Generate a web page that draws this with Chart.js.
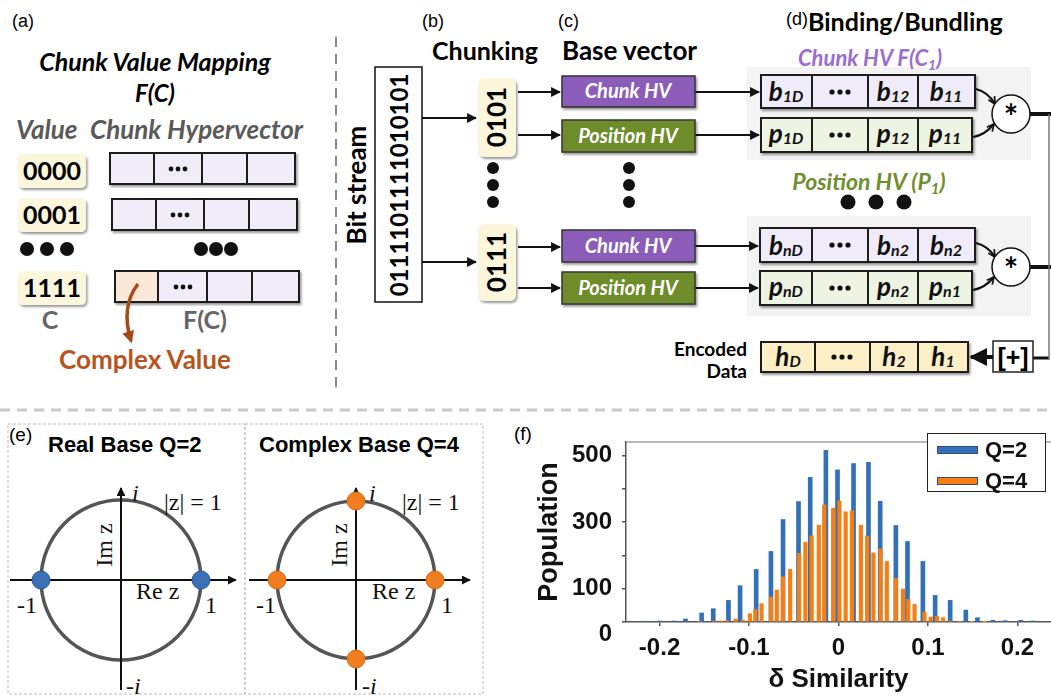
<!DOCTYPE html>
<html>
<head>
<meta charset="utf-8">
<script src="https://cdn.jsdelivr.net/npm/chart.js@4.4.1/dist/chart.umd.min.js"></script>
<style>
  body { margin: 0; background: #fff; }
  #fig { position: relative; width: 1051px; height: 698px; overflow: hidden; background: #fff; }
  #diagram { position: absolute; left: 0; top: 0; }
  #histWrap { position: absolute; left: 530px; top: 420px; width: 521px; height: 278px; }
  #legend { position: absolute; left: 927px; top: 433px; width: 119px; height: 59px; box-sizing: border-box;
            border: 1.5px solid #222; background: #fff; font: bold 22px "Liberation Sans", Arial, sans-serif; color: #111; }
  #legend .item { position: absolute; left: 9px; display: flex; align-items: center; height: 26px; }
  #legend .sw { width: 39px; height: 6px; border: 1px solid #3a4a7a; margin-right: 7px; }
  .lt { font-family: Lato, "Open Sans", sans-serif; font-weight: bold; }
  .lti { font-family: Lato, "Open Sans", sans-serif; font-weight: bold; font-style: italic; }
  .ar { font-family: "Liberation Sans", Arial, sans-serif; }
  .sf { font-family: "Liberation Serif", "DejaVu Serif", serif; }
</style>
</head>
<body>
<div id="fig">
<svg id="diagram" width="1051" height="698" xmlns="http://www.w3.org/2000/svg">
  <defs>
    <marker id="ah" viewBox="0 0 10 10" refX="9" refY="5" markerWidth="4.5" markerHeight="4.5" orient="auto">
      <path d="M0,0 L10,5 L0,10 z" fill="#111"/>
    </marker>
    <marker id="ahOpen" viewBox="0 0 10 10" refX="9" refY="5" markerWidth="4" markerHeight="4" orient="auto">
      <path d="M1,1 L9,5 L1,9" fill="none" stroke="#111" stroke-width="2"/>
    </marker>
    <marker id="ahBrown" viewBox="0 0 10 10" refX="8" refY="5" markerWidth="3.5" markerHeight="3.5" orient="auto">
      <path d="M0,0 L10,5 L0,10 z" fill="#a64a17"/>
    </marker>
    <filter id="sh" x="-15%" y="-15%" width="140%" height="150%">
      <feDropShadow dx="1.5" dy="2" stdDeviation="1.3" flood-color="#000" flood-opacity="0.4"/>
    </filter>
  </defs>

  <!-- (a) chunk value mapping -->
  <text x="12" y="27" class="ar" font-size="18">(a)</text>
  <text x="155" y="71" class="lti" font-size="25" text-anchor="middle">Chunk Value Mapping</text>
  <text x="155" y="102" class="lti" font-size="24" text-anchor="middle">F(C)</text>
  <text x="16" y="139" class="lti" font-size="26" fill="#5a5a5a">Value</text>
  <text x="90" y="139" class="lti" font-size="26" fill="#5a5a5a">Chunk Hypervector</text>

  <g filter="url(#sh)" fill="#fcf7dc">
    <rect x="18" y="154" width="68" height="34" rx="5"/>
    <rect x="18" y="198" width="68" height="34" rx="5"/>
    <rect x="18" y="271" width="68" height="34" rx="5"/>
  </g>
  <g class="lt" font-size="25" text-anchor="middle">
    <text x="52" y="180">0000</text>
    <text x="52" y="224">0001</text>
    <text x="52" y="297">1111</text>
  </g>
  <g filter="url(#sh)" stroke="#1a1a1a" stroke-width="2" fill="#f1edf8">
    <rect x="110" y="153" width="44" height="31"/><rect x="154" y="153" width="48" height="31"/>
    <rect x="202" y="153" width="45" height="31"/><rect x="247" y="153" width="48" height="31"/>
    <rect x="112" y="199" width="44" height="31"/><rect x="156" y="199" width="48" height="31"/>
    <rect x="204" y="199" width="45" height="31"/><rect x="249" y="199" width="48" height="31"/>
    <rect x="115" y="271" width="43" height="31" fill="#fbe8d8"/><rect x="158" y="271" width="49" height="31"/>
    <rect x="207" y="271" width="45" height="31"/><rect x="252" y="271" width="47" height="31"/>
  </g>
  <g fill="#111">
    <circle cx="171" cy="169" r="2.4"/><circle cx="178" cy="169" r="2.4"/><circle cx="185" cy="169" r="2.4"/>
    <circle cx="173" cy="215" r="2.4"/><circle cx="180" cy="215" r="2.4"/><circle cx="187" cy="215" r="2.4"/>
    <circle cx="176" cy="287" r="2.4"/><circle cx="183" cy="287" r="2.4"/><circle cx="190" cy="287" r="2.4"/>
    <circle cx="27" cy="249" r="7"/><circle cx="47" cy="249" r="7"/><circle cx="67" cy="249" r="7"/>
    <circle cx="201" cy="249" r="7"/><circle cx="216" cy="249" r="7"/><circle cx="231" cy="249" r="7"/>
  </g>
  <text x="50" y="329" class="lt" font-size="25" fill="#666" text-anchor="middle">C</text>
  <text x="205" y="329" class="lt" font-size="25" fill="#666" text-anchor="middle">F(C)</text>
  <path d="M138,284 C127,298 124,318 131,341" fill="none" stroke="#a64a17" stroke-width="3.5" marker-end="url(#ahBrown)"/>
  <text x="145" y="369" class="lt" font-size="26" fill="#b5541c" text-anchor="middle">Complex Value</text>

  <line x1="336" y1="37" x2="336" y2="387" stroke="#888" stroke-width="2" stroke-dasharray="10,7"/>

  <!-- (b) chunking, (c) base vectors -->
  <text x="422" y="27" class="ar" font-size="18">(b)</text>
  <text x="558" y="27" class="ar" font-size="18">(c)</text>
  <text x="432" y="60" class="lt" font-size="25">Chunking</text>
  <text x="562" y="60" class="lt" font-size="26">Base vector</text>
  <text transform="translate(366,185) rotate(-90)" class="lt" font-size="26" text-anchor="middle">Bit stream</text>
  <rect x="375" y="67" width="47" height="235" fill="#fff" stroke="#111" stroke-width="1.5"/>
  <text transform="translate(408,185) rotate(-90)" class="lt" font-size="24" text-anchor="middle">0111101111010101</text>

  <!-- grey panels behind the bound pairs -->
  <rect x="747" y="67" width="284" height="93" fill="#f3f3f3"/>
  <rect x="747" y="216" width="284" height="100" fill="#f3f3f3"/>

  <g stroke="#111" stroke-width="2.2" marker-end="url(#ah)">
    <line x1="422" y1="118" x2="476" y2="118"/>
    <line x1="422" y1="262" x2="476" y2="262"/>
    <line x1="518" y1="92" x2="560" y2="92"/>
    <line x1="518" y1="135" x2="560" y2="135"/>
    <line x1="518" y1="247" x2="560" y2="247"/>
    <line x1="518" y1="288" x2="560" y2="288"/>
    <line x1="695" y1="92" x2="759" y2="92"/>
    <line x1="695" y1="135" x2="759" y2="135"/>
    <line x1="695" y1="246" x2="758" y2="246"/>
    <line x1="695" y1="288" x2="758" y2="288"/>
  </g>
  <g filter="url(#sh)" fill="#fcf7dc">
    <rect x="478" y="78" width="38" height="79" rx="6"/>
    <rect x="478" y="224" width="38" height="77" rx="6"/>
  </g>
  <text transform="translate(506,117) rotate(-90)" class="lt" font-size="26" text-anchor="middle">0101</text>
  <text transform="translate(506,262) rotate(-90)" class="lt" font-size="26" text-anchor="middle">0111</text>
  <g fill="#111">
    <circle cx="493" cy="168" r="6"/><circle cx="493" cy="185" r="6"/><circle cx="493" cy="202" r="6"/>
    <circle cx="629" cy="168" r="6"/><circle cx="629" cy="185" r="6"/><circle cx="629" cy="202" r="6"/>
  </g>
  <g filter="url(#sh)" stroke="#333" stroke-width="1.5">
    <rect x="562" y="76" width="133" height="31" fill="#8b5db8"/>
    <rect x="562" y="120" width="133" height="32" fill="#6e8c2b"/>
    <rect x="562" y="230" width="133" height="32" fill="#8b5db8"/>
    <rect x="562" y="272" width="133" height="32" fill="#6e8c2b"/>
  </g>
  <g class="lti" font-size="20" fill="#fff" text-anchor="middle">
    <text x="628" y="98">Chunk HV</text>
    <text x="628" y="143">Position HV</text>
    <text x="628" y="253">Chunk HV</text>
    <text x="628" y="295">Position HV</text>
  </g>

  <!-- (d) binding / bundling -->
  <text x="786" y="25" class="ar" font-size="18">(d)</text>
  <text x="808" y="31" class="lt" font-size="25">Binding/Bundling</text>
  <text x="870" y="66" class="lti" font-size="22" fill="#9a6dd0" text-anchor="middle">Chunk HV F(C<tspan font-size="14" dy="4">1</tspan><tspan dy="-4">)</tspan></text>
  <g filter="url(#sh)" stroke="#1a1a1a" stroke-width="2">
    <g fill="#f0ebf8">
      <rect x="761" y="75" width="51" height="33"/><rect x="812" y="75" width="56" height="33"/>
      <rect x="868" y="75" width="50" height="33"/><rect x="918" y="75" width="57" height="33"/>
      <rect x="760" y="228" width="52" height="34"/><rect x="812" y="228" width="56" height="34"/>
      <rect x="868" y="228" width="50" height="34"/><rect x="918" y="228" width="57" height="34"/>
    </g>
    <g fill="#eef4e2">
      <rect x="761" y="118" width="51" height="34"/><rect x="812" y="118" width="56" height="34"/>
      <rect x="868" y="118" width="50" height="34"/><rect x="918" y="118" width="54" height="34"/>
      <rect x="760" y="271" width="52" height="34"/><rect x="812" y="271" width="56" height="34"/>
      <rect x="868" y="271" width="50" height="34"/><rect x="918" y="271" width="54" height="34"/>
    </g>
    <g fill="#fcefc6">
      <rect x="761" y="342" width="54" height="30"/><rect x="815" y="342" width="55" height="30"/>
      <rect x="870" y="342" width="48" height="30"/><rect x="918" y="342" width="50" height="30"/>
    </g>
  </g>
  <g class="lti" font-size="26" text-anchor="middle" fill="#111">
    <text x="786" y="101">b<tspan font-size="16" dy="1">1D</tspan></text>
    <text x="893" y="101">b<tspan font-size="16" dy="1">12</tspan></text>
    <text x="946" y="101">b<tspan font-size="16" dy="1">11</tspan></text>
    <text x="786" y="143">p<tspan font-size="16" dy="1">1D</tspan></text>
    <text x="893" y="143">p<tspan font-size="16" dy="1">12</tspan></text>
    <text x="945" y="143">p<tspan font-size="16" dy="1">11</tspan></text>
    <text x="786" y="255">b<tspan font-size="16" dy="1">nD</tspan></text>
    <text x="893" y="255">b<tspan font-size="16" dy="1">n2</tspan></text>
    <text x="946" y="255">b<tspan font-size="16" dy="1">n2</tspan></text>
    <text x="786" y="296">p<tspan font-size="16" dy="1">nD</tspan></text>
    <text x="893" y="296">p<tspan font-size="16" dy="1">n2</tspan></text>
    <text x="945" y="296">p<tspan font-size="16" dy="1">n1</tspan></text>
    <text x="788" y="366">h<tspan font-size="16" dy="1">D</tspan></text>
    <text x="894" y="366">h<tspan font-size="16" dy="1">2</tspan></text>
    <text x="943" y="366">h<tspan font-size="16" dy="1">1</tspan></text>
  </g>
  <g fill="#111">
    <circle cx="832" cy="92" r="2.6"/><circle cx="840" cy="92" r="2.6"/><circle cx="848" cy="92" r="2.6"/>
    <circle cx="832" cy="135" r="2.6"/><circle cx="840" cy="135" r="2.6"/><circle cx="848" cy="135" r="2.6"/>
    <circle cx="832" cy="245" r="2.6"/><circle cx="840" cy="245" r="2.6"/><circle cx="848" cy="245" r="2.6"/>
    <circle cx="832" cy="288" r="2.6"/><circle cx="840" cy="288" r="2.6"/><circle cx="848" cy="288" r="2.6"/>
    <circle cx="834" cy="357" r="2.6"/><circle cx="842" cy="357" r="2.6"/><circle cx="850" cy="357" r="2.6"/>
    <circle cx="848" cy="202" r="7.5"/><circle cx="876" cy="202" r="7.5"/><circle cx="904" cy="202" r="7.5"/>
  </g>
  <text x="869" y="190" class="lti" font-size="23" fill="#6f8f2f" text-anchor="middle">Position HV (P<tspan font-size="15" dy="4">1</tspan><tspan dy="-4">)</tspan></text>
  <g fill="none" stroke="#111" stroke-width="2.2" marker-end="url(#ahOpen)">
    <path d="M976,89 Q988,92 995,104"/>
    <path d="M973,137 Q985,135 994,124"/>
    <path d="M976,243 Q988,246 995,257"/>
    <path d="M973,290 Q985,288 994,277"/>
  </g>
  <circle cx="1011" cy="114" r="19" fill="#fff" stroke="#111" stroke-width="1.5"/>
  <circle cx="1011" cy="267" r="19" fill="#fff" stroke="#111" stroke-width="1.5"/>
  <g class="lt" font-size="34" text-anchor="middle"><text x="1011" y="129">*</text><text x="1011" y="282">*</text></g>
  <g stroke="#111" stroke-width="4">
    <line x1="1030" y1="114" x2="1051" y2="114"/>
    <line x1="1030" y1="267" x2="1051" y2="267"/>
    <line x1="1049" y1="358" x2="1033" y2="358" stroke-width="3"/>
  </g>
  <line x1="1049" y1="114" x2="1049" y2="360" stroke="#777" stroke-width="1.5"/>
  <rect x="993" y="341" width="40" height="31" fill="#fff" stroke="#222" stroke-width="1.5"/>
  <text x="1013" y="366" class="ar" font-size="25" font-weight="bold" text-anchor="middle">[+]</text>
  <line x1="993" y1="357" x2="971" y2="357" stroke="#111" stroke-width="4" marker-end="url(#ah)"/>
  <text x="747" y="356" class="lt" font-size="19" text-anchor="end">Encoded</text>
  <text x="747" y="378" class="lt" font-size="19" text-anchor="end">Data</text>

  <line x1="0" y1="410" x2="1051" y2="410" stroke="#c9c9c9" stroke-width="3" stroke-dasharray="10,7"/>

  <!-- (e) unit circle bases -->
  <rect x="8" y="424" width="237" height="270" fill="none" stroke="#bdbdbd" stroke-width="1" stroke-dasharray="3,2"/>
  <rect x="245" y="424" width="238" height="270" fill="none" stroke="#bdbdbd" stroke-width="1" stroke-dasharray="3,2"/>
  <text x="9" y="441" class="ar" font-size="19">(e)</text>
  <text x="48" y="452" class="ar" font-size="22" font-weight="bold">Real Base Q=2</text>
  <text x="259" y="452" class="ar" font-size="22" font-weight="bold">Complex Base Q=4</text>

  <circle cx="121" cy="580" r="80" fill="none" stroke="#555" stroke-width="3.5"/>
  <g stroke="#111" stroke-width="2" marker-end="url(#ah)">
    <line x1="10" y1="580" x2="236" y2="580"/>
    <line x1="121" y1="690" x2="121" y2="488"/>
  </g>
  <circle cx="41" cy="580" r="9" fill="#3c70b6" stroke="#2b5c9e"/>
  <circle cx="201" cy="580" r="9" fill="#3c70b6" stroke="#2b5c9e"/>
  <g class="sf" font-size="24" fill="#111">
    <text x="132" y="501" font-style="italic">i</text>
    <text x="164" y="510">|z| = 1</text>
    <text transform="translate(112,545) rotate(-90)" text-anchor="middle">Im z</text>
    <text x="136" y="599">Re z</text>
    <text x="17" y="613">-1</text>
    <text x="205" y="613">1</text>
    <text x="126" y="694">-<tspan font-style="italic">i</tspan></text>
  </g>

  <circle cx="356" cy="580" r="79" fill="none" stroke="#555" stroke-width="3.5"/>
  <g stroke="#111" stroke-width="2" marker-end="url(#ah)">
    <line x1="249" y1="580" x2="470" y2="580"/>
    <line x1="356" y1="690" x2="356" y2="488"/>
  </g>
  <g fill="#f07d1f" stroke="#d86a10">
    <circle cx="277" cy="580" r="9"/><circle cx="435" cy="580" r="9"/>
    <circle cx="356" cy="501" r="9"/><circle cx="356" cy="659" r="9"/>
  </g>
  <g class="sf" font-size="24" fill="#111">
    <text x="369" y="501" font-style="italic">i</text>
    <text x="402" y="510">|z| = 1</text>
    <text transform="translate(347,545) rotate(-90)" text-anchor="middle">Im z</text>
    <text x="372" y="599">Re z</text>
    <text x="256" y="613">-1</text>
    <text x="441" y="613">1</text>
    <text x="362" y="694">-<tspan font-style="italic">i</tspan></text>
  </g>

  <text x="514" y="440" class="ar" font-size="19">(f)</text>
</svg>
<div id="histWrap"><canvas id="hist" width="521" height="278"></canvas></div>
<div id="legend"></div>
</div>

<script>
// Histogram of pairwise similarity deviations for the two bases.
const similarityQ2 = [-0.214, -0.200, -0.184, -0.171, -0.153, -0.140, -0.123, -0.110, -0.092, -0.0755,
  -0.062, -0.0447, -0.0316, -0.0141, -0.0011, 0.0168, 0.0335, 0.0466, 0.0641, 0.0771,
  0.0943, 0.108, 0.1248, 0.1423, 0.1553, 0.1725, 0.1863, 0.2038, 0.2168];
const populationQ2 = [2, 3, 3, 9, 27, 40, 65, 109, 158, 212,
  308, 362, 435, 516, 457, 476, 480, 363, 290, 242,
  182, 80, 65, 36, 13, 5, 4, 5, 3];

const similarityQ4 = [-0.155, -0.139, -0.132, -0.125, -0.115, -0.107, -0.099, -0.093, -0.086, -0.0755,
  -0.069, -0.062, -0.054, -0.044, -0.037, -0.030, -0.022, -0.016, -0.006, 0.001,
  0.008, 0.015, 0.025, 0.032, 0.039, 0.047, 0.054, 0.064, 0.072, 0.078,
  0.085, 0.096, 0.103, 0.110, 0.117, 0.125, 0.135, 0.149, 0.163];
const populationQ4 = [2, 3, 3, 4, 9, 6, 25, 37, 55, 75,
  96, 136, 158, 206, 240, 259, 291, 352, 342, 364,
  331, 334, 291, 258, 208, 220, 182, 131, 99, 68,
  53, 30, 15, 17, 13, 2, 2, 1, 1];

const seriesNames = ['Q=2', 'Q=4'];
const xTickValues = [-0.2, -0.1, 0, 0.1, 0.2];
const xTickLabels = ['-0.2', '-0.1', '0', '0.1', '0.2'];
const yTickValues = [0, 100, 200, 300, 400, 500];
const yTickLabels = ['0', '100', '', '300', '', '500'];

const toPoints = (xs, ys) => xs.map((x, i) => ({ x: x, y: ys[i] }));

// thin grey rule along the top of the plotting area
const topRule = {
  id: 'topRule',
  afterDraw(chart) {
    const { ctx, chartArea: a } = chart;
    ctx.save();
    ctx.strokeStyle = '#a0a0a0';
    ctx.lineWidth = 1.5;
    ctx.beginPath();
    ctx.moveTo(a.left, a.top);
    ctx.lineTo(a.right, a.top);
    ctx.stroke();
    ctx.restore();
  }
};

const boldFont = (size, lh) => ({ family: '"Liberation Sans", Arial, sans-serif', weight: 'bold', size: size, lineHeight: lh || 1.2 });

const chart = new Chart(document.getElementById('hist'), {
  type: 'bar',
  data: {
    datasets: [
      { label: seriesNames[0], data: toPoints(similarityQ2, populationQ2), backgroundColor: '#3270b8',
        barThickness: 4, grouped: false, order: 2 },
      { label: seriesNames[1], data: toPoints(similarityQ4, populationQ4), backgroundColor: '#f77f12',
        barThickness: 3.5, grouped: false, order: 1 }
    ]
  },
  options: {
    responsive: false,
    animation: false,
    layout: { padding: { top: 11, right: 0, bottom: 0, left: 0 } },
    plugins: { legend: { display: false }, tooltip: { enabled: false } },
    scales: {
      x: {
        type: 'linear', min: -0.2375, max: 0.2375, offset: false,
        afterBuildTicks: s => { s.ticks = xTickValues.map(v => ({ value: v })); },
        afterFit: s => { s.height = 76; },
        ticks: { callback: (v, i) => xTickLabels[i], font: boldFont(24), color: '#111', padding: 8,
                 maxRotation: 0, autoSkip: false },
        grid: { drawOnChartArea: false, offset: false, tickLength: 4, color: '#555', lineWidth: 1.5 },
        border: { color: '#555', width: 1.5 },
        title: { display: true, text: 'δ Similarity', font: boldFont(26), color: '#111', padding: { top: 2, bottom: 3 } }
      },
      y: {
        min: 0, max: 541,
        afterBuildTicks: s => { s.ticks = yTickValues.map(v => ({ value: v })); },
        afterFit: s => { s.width = 96; },
        ticks: { callback: (v, i) => (yTickValues[i] === 0 ? ['', yTickLabels[i]] : yTickLabels[i]),
                 font: boldFont(24, 1), color: '#111', padding: 10, autoSkip: false },
        grid: { drawOnChartArea: false, tickLength: 4, color: '#555', lineWidth: 1.5 },
        border: { color: '#555', width: 1.5 },
        title: { display: true, text: 'Population', font: boldFont(27), color: '#111', padding: { top: 3, bottom: 4 } }
      }
    }
  },
  plugins: [topRule]
});

// legend box in the upper-right corner of the plot
const legendEl = document.getElementById('legend');
chart.data.datasets.forEach((ds, i) => {
  const item = document.createElement('div');
  item.className = 'item';
  item.style.top = (i === 0 ? 3 : 34) + 'px';
  const sw = document.createElement('span');
  sw.className = 'sw';
  sw.style.background = ds.backgroundColor;
  const label = document.createElement('span');
  label.textContent = ds.label;
  item.appendChild(sw);
  item.appendChild(label);
  legendEl.appendChild(item);
});
</script>
</body>
</html>
